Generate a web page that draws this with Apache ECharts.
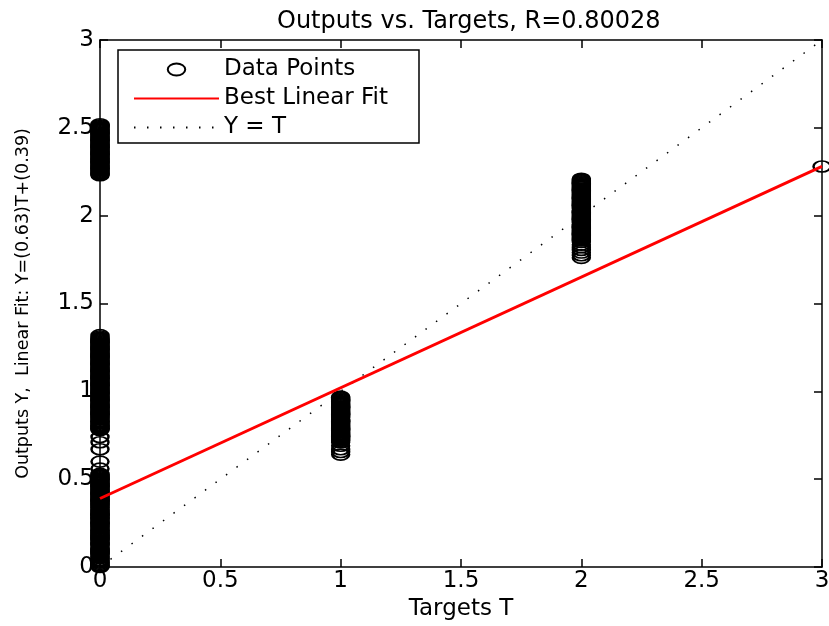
<!DOCTYPE html>
<html>
<head>
<meta charset="utf-8">
<script src="https://cdn.jsdelivr.net/npm/echarts@6/dist/echarts.min.js"></script>
<style>
  html, body { margin: 0; padding: 0; background: #fff; }
  #chart { width: 829px; height: 626px; }
</style>
</head>
<body>
<div id="chart"></div>
<script>
// ---- data ----
const titleText = 'Outputs vs. Targets, R=0.80028';
const xAxisName = 'Targets T';
const yAxisName = 'Outputs Y,  Linear Fit: Y=(0.63)T+(0.39)';
const legendNames = ['Data Points', 'Best Linear Fit', 'Y = T'];

// outputs observed for target T = 0
const outputsT0Low = [0.00,0.006,0.01,0.018,0.024,0.03,0.036,0.04,0.049,0.055,0.06,0.068,0.074,0.08,0.085,0.09,0.096,0.1,0.106,0.11,0.119,0.125,0.13,0.136,0.14,0.148,0.154,0.16,0.165,0.17,0.176,0.18,0.186,0.19,0.196,0.2,0.205,0.21,0.219,0.225,0.23,0.236,0.24,0.245,0.25,0.255,0.26,0.268,0.274,0.28,0.285,0.29,0.296,0.3,0.305,0.31,0.316,0.32,0.326,0.33,0.339,0.345,0.35,0.356,0.36,0.365,0.37,0.376,0.38,0.385,0.39,0.396,0.4,0.405,0.41,0.416,0.42,0.425,0.43,0.436,0.44,0.445,0.45,0.456,0.46,0.465,0.47,0.476,0.48,0.485,0.49,0.496,0.5,0.505,0.51,0.516,0.52,0.526,0.53];
const outputsT0Mid = [0.56,0.6,0.67,0.71,0.74];
const outputsT0High = [0.78,0.785,0.79,0.796,0.8,0.805,0.81,0.816,0.82,0.825,0.83,0.838,0.845,0.85,0.855,0.86,0.865,0.87,0.875,0.88,0.885,0.89,0.895,0.9,0.905,0.91,0.915,0.92,0.925,0.93,0.935,0.94,0.945,0.95,0.955,0.96,0.965,0.97,0.975,0.98,0.985,0.99,0.995,1.0,1.005,1.01,1.015,1.02,1.025,1.03,1.035,1.04,1.045,1.05,1.055,1.06,1.065,1.07,1.075,1.08,1.085,1.09,1.095,1.1,1.105,1.11,1.115,1.12,1.125,1.13,1.135,1.14,1.145,1.15,1.155,1.16,1.165,1.17,1.175,1.18,1.185,1.19,1.195,1.2,1.205,1.21,1.215,1.22,1.225,1.23,1.235,1.24,1.245,1.25,1.255,1.26,1.265,1.27,1.275,1.28,1.285,1.29,1.295,1.3,1.305,1.312,1.32];
const outputsT0Top = [2.23,2.235,2.24,2.245,2.25,2.256,2.26,2.265,2.27,2.275,2.28,2.285,2.29,2.295,2.3,2.305,2.31,2.315,2.32,2.325,2.33,2.335,2.34,2.345,2.35,2.355,2.36,2.365,2.37,2.375,2.38,2.385,2.39,2.395,2.4,2.405,2.41,2.415,2.42,2.425,2.43,2.435,2.44,2.445,2.45,2.455,2.46,2.465,2.47,2.475,2.48,2.485,2.49,2.495,2.5,2.505,2.51,2.515,2.52];
// outputs observed for target T = 1
const outputsT1 = [0.64,0.655,0.67,0.69,0.71,0.72,0.725,0.73,0.735,0.74,0.745,0.75,0.755,0.76,0.765,0.77,0.775,0.78,0.785,0.79,0.795,0.8,0.805,0.81,0.815,0.82,0.825,0.83,0.835,0.84,0.85,0.855,0.86,0.865,0.87,0.875,0.88,0.885,0.89,0.895,0.9,0.905,0.91,0.915,0.92,0.925,0.93,0.935,0.94,0.945,0.95,0.955,0.96,0.965,0.97];
// outputs observed for target T = 2
const outputsT2 = [1.76,1.775,1.79,1.805,1.82,1.835,1.85,1.86,1.865,1.87,1.875,1.88,1.885,1.89,1.895,1.9,1.905,1.91,1.915,1.92,1.925,1.93,1.935,1.94,1.945,1.95,1.96,1.965,1.97,1.975,1.98,1.985,1.99,1.995,2.0,2.005,2.01,2.015,2.02,2.025,2.03,2.04,2.045,2.05,2.055,2.06,2.065,2.07,2.075,2.08,2.085,2.09,2.095,2.1,2.105,2.11,2.115,2.12,2.125,2.13,2.135,2.14,2.145,2.15,2.155,2.16,2.165,2.17,2.175,2.18,2.185,2.19,2.195,2.2,2.205,2.21];
// outputs observed for target T = 3
const outputsT3 = [2.28];

// best linear fit Y = slope*T + intercept, and the identity line Y = T
const fitSlope = 0.63;
const fitIntercept = 0.39;
const lineTargets = [0, 3];

// axis ranges / ticks
const axisMin = 0, axisMax = 3, axisStep = 0.5;

// ---- build series data ----
const groups = [
  [0, outputsT0Low], [0, outputsT0Mid], [0, outputsT0High], [0, outputsT0Top],
  [1, outputsT1], [2, outputsT2], [3, outputsT3]
];
const scatterData = [];
groups.forEach(([t, arr]) => arr.forEach(v => scatterData.push([t, v])));
const fitData = lineTargets.map(t => [t, fitSlope * t + fitIntercept]);
const identityData = lineTargets.map(t => [t, t]);

const FONT = 'DejaVu Sans';
const chart = echarts.init(document.getElementById('chart'));

const baseAxis = {
  type: 'value',
  min: axisMin, max: axisMax, interval: axisStep,
  splitLine: { show: false },
  axisLine: { show: true, onZero: false, lineStyle: { color: '#000', width: 1.5 } },
  axisTick: { show: true, inside: true, length: 8, lineStyle: { color: '#000', width: 1.5 } }
};

const hiddenSymbol = { color: 'rgba(0,0,0,0)', borderWidth: 0, opacity: 0 };

chart.setOption({
  backgroundColor: '#fff',
  animation: false,
  title: {
    text: titleText,
    left: 272, top: 5,
    textStyle: { fontFamily: FONT, fontSize: 24, fontWeight: 'normal', color: '#000' }
  },
  grid: { left: 100, right: 7, top: 40, bottom: 59, containLabel: false, outerBoundsMode: 'none' },
  legend: {
    orient: 'vertical',
    left: 118, top: 50,
    padding: [8, 31, 4, 15],
    itemGap: 6,
    itemWidth: 85, itemHeight: 12,
    backgroundColor: '#fff',
    borderColor: '#000', borderWidth: 1.5, borderRadius: 0,
    textStyle: { fontFamily: FONT, fontSize: 23, lineHeight: 23, color: '#000' },
    data: [
      { name: legendNames[0], icon: 'path://M0,5.5A8,5.5 0 1,0 16,5.5A8,5.5 0 1,0 0,5.5Z',
        itemStyle: { color: 'rgba(0,0,0,0)', borderColor: '#000', borderWidth: 2, opacity: 1 } },
      { name: legendNames[1], itemStyle: hiddenSymbol },
      { name: legendNames[2], itemStyle: hiddenSymbol }
    ]
  },
  xAxis: [
    Object.assign({}, baseAxis, {
      position: 'bottom',
      name: xAxisName, nameLocation: 'middle', nameGap: 28,
      nameTextStyle: { fontFamily: FONT, fontSize: 23, color: '#000' },
      axisLabel: { fontFamily: FONT, fontSize: 23, color: '#000', margin: 3 }
    }),
    Object.assign({}, baseAxis, { position: 'top', axisLabel: { show: false } })
  ],
  yAxis: [
    Object.assign({}, baseAxis, {
      position: 'left',
      name: yAxisName, nameLocation: 'middle', nameGap: 68, nameRotate: 90,
      nameTextStyle: { fontFamily: FONT, fontSize: 17.5, color: '#000' },
      axisLabel: { fontFamily: FONT, fontSize: 23, color: '#000', margin: 6 }
    }),
    Object.assign({}, baseAxis, { position: 'right', axisLabel: { show: false } })
  ],
  series: [
    {
      name: legendNames[0], type: 'scatter',
      xAxisIndex: 0, yAxisIndex: 0,
      symbol: 'circle', symbolSize: [17, 11],
      itemStyle: { color: 'rgba(0,0,0,0)', borderColor: '#000', borderWidth: 2, opacity: 1 },
      emphasis: { disabled: true },
      large: false,
      data: scatterData, z: 2
    },
    {
      name: legendNames[2], type: 'line',
      symbol: 'none', showSymbol: false,
      lineStyle: { color: '#000', width: 1.5, type: [1.5, 11.5] },
      itemStyle: { color: '#000' },
      data: identityData, z: 3
    },
    {
      name: legendNames[1], type: 'line',
      symbol: 'none', showSymbol: false,
      lineStyle: { color: '#ff0000', width: 3 },
      itemStyle: { color: '#ff0000' },
      data: fitData, z: 4
    }
  ]
});
</script>
</body>
</html>
